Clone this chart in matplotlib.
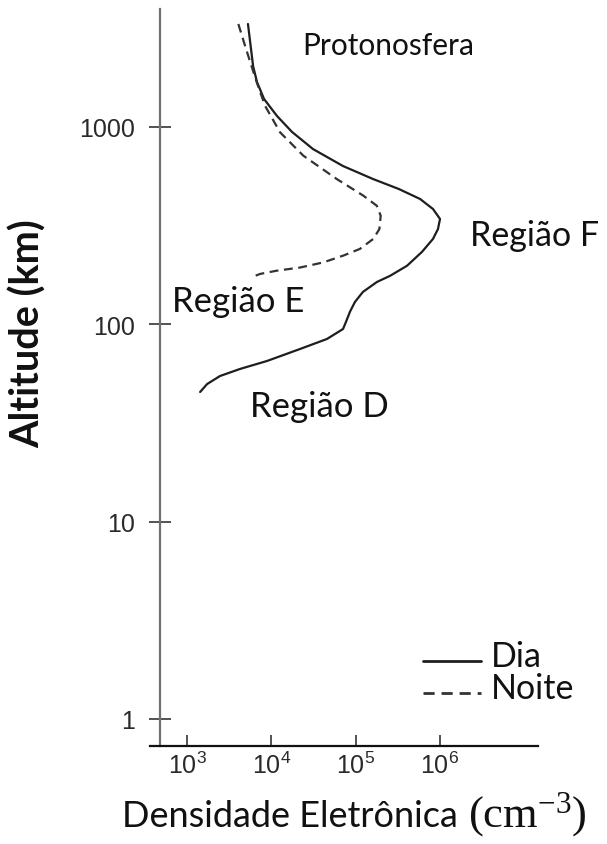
import matplotlib
matplotlib.use("Agg")
import matplotlib.pyplot as plt
from matplotlib.legend_handler import HandlerLine2D

# ---- data ----
dia_densidade = [5280, 5740, 6070, 6760, 8190, 11670, 17580, 31200, 70800, 160600,
                 325000, 579000, 826000, 1000000, 946000, 826000, 612000, 406000,
                 255000, 179000, 122000, 98200, 85700, 76800, 70800, 45700, 21900,
                 8890, 4250, 2460, 1730, 1430]
dia_altitude = [3327, 2485, 2038, 1690, 1387, 1137, 944, 773, 634, 545,
                485, 432, 384, 342, 304, 271, 233, 198,
                176, 164, 146, 130, 116, 103, 94.7, 84.3, 75,
                65.2, 59.4, 54.7, 49.8, 45.4]

noite_densidade = [4060, 5010, 6710, 8410, 12680, 23900, 59600, 123000, 178000,
                   198000, 191000, 162000, 112000, 71300, 41300, 21900, 11600,
                   7350, 6400]
noite_altitude = [3327, 2485, 1686, 1282, 940, 716, 545, 449, 399,
                  355, 304, 271, 241, 223, 206, 194, 187,
                  180, 176]

x_ticks = [1e3, 1e4, 1e5, 1e6]
y_ticks = [1, 10, 100, 1000]
y_tick_labels = ["1", "10", "100", "1000"]

legend_labels = ["Dia", "Noite"]
regioes = ["Protonosfera", "Região F", "Região E", "Região D"]

# ---- figure ----
W, H = 607, 845
plt.rcParams["font.family"] = ["Liberation Sans", "DejaVu Sans"]
plt.rcParams["mathtext.fontset"] = "custom"
plt.rcParams["mathtext.rm"] = "Liberation Serif"
plt.rcParams["mathtext.it"] = "Liberation Serif:italic"

fig = plt.figure(figsize=(W / 100, H / 100), dpi=100)
ax = fig.add_axes([150 / W, 1 - 747 / H, 388 / W, 737 / H])
ax.set_xscale("log")
ax.set_yscale("log")
ax.set_xlim(10 ** 2.561, 10 ** 7.162)
ax.set_ylim(10 ** -0.137, 10 ** 3.598)

l1, = ax.plot(dia_densidade, dia_altitude, color="#1e1e1e", lw=1.6,
              solid_capstyle="round", solid_joinstyle="round")
l2, = ax.plot(noite_densidade, noite_altitude, color="#333333", lw=1.6,
              dashes=(4, 2.5))

for s in ["top", "right"]:
    ax.spines[s].set_visible(False)
ax.spines["left"].set_position(("data", 10 ** 2.68))
ax.spines["left"].set_color("#707070")
ax.spines["left"].set_linewidth(1.6)
ax.spines["bottom"].set_color("#111111")
ax.spines["bottom"].set_linewidth(1.6)

ax.set_xticks(x_ticks)
ax.set_yticks(y_ticks)
ax.set_yticklabels(y_tick_labels)
ax.minorticks_off()
ax.tick_params(axis="y", which="major", direction="inout", length=16, width=1.3,
               color="#444444", labelsize=18, labelcolor="#2a2a2a", pad=10)
ax.tick_params(axis="x", which="major", direction="in", length=8, width=1.3,
               color="#444444", labelsize=18, labelcolor="#2a2a2a", pad=4)


def ftext(px, py, s, **kw):
    fig.text(px / W, 1 - py / H, s, **kw)


txt_font = ["Lato", "DejaVu Sans"]
tc = "#111111"
ftext(302, 55, regioes[0], fontsize=21.5, family=txt_font, va="baseline", color=tc)
ftext(470, 246, regioes[1], fontsize=24.5, family=txt_font, va="baseline", color=tc)
ftext(172, 312, regioes[2], fontsize=25, family=txt_font, va="baseline", color=tc)
ftext(250, 417, regioes[3], fontsize=25, family=txt_font, va="baseline", color=tc)

# axis labels
ftext(28, 334, "Altitude (km)", fontsize=28.5, family=txt_font, fontweight="bold",
      rotation=90, ha="center", va="center", color=tc)
ftext(122, 827, "Densidade Eletrônica", fontsize=26, family=txt_font,
      ha="left", va="baseline", color=tc)
ftext(468, 827, r"$\mathrm{(cm}^{-3}\mathrm{)}$", fontsize=32,
      ha="left", va="baseline", color=tc)


class LowHandler(HandlerLine2D):
    """Legend line drawn a little lower, near the text baseline."""
    def create_artists(self, legend, orig_handle, xdescent, ydescent,
                       width, height, fontsize, trans):
        arts = super().create_artists(legend, orig_handle, xdescent, ydescent,
                                      width, height, fontsize, trans)
        for a in arts:
            a.set_ydata([y - 0.2 * fontsize for y in a.get_ydata()])
        return arts


leg = ax.legend([l1, l2], legend_labels, loc="upper left",
                bbox_to_anchor=(423 / W, 1 - 641 / H), bbox_transform=fig.transFigure,
                frameon=False, borderpad=0, borderaxespad=0, handlelength=1.7,
                handletextpad=0.3, labelspacing=0.0,
                handler_map={l1: LowHandler(), l2: LowHandler()},
                prop={"family": txt_font, "size": 24.5})
for t in leg.get_texts():
    t.set_color(tc)
for h in leg.get_lines():
    h.set_linewidth(2.0)

fig.savefig("out.png", dpi=100, facecolor="white")
